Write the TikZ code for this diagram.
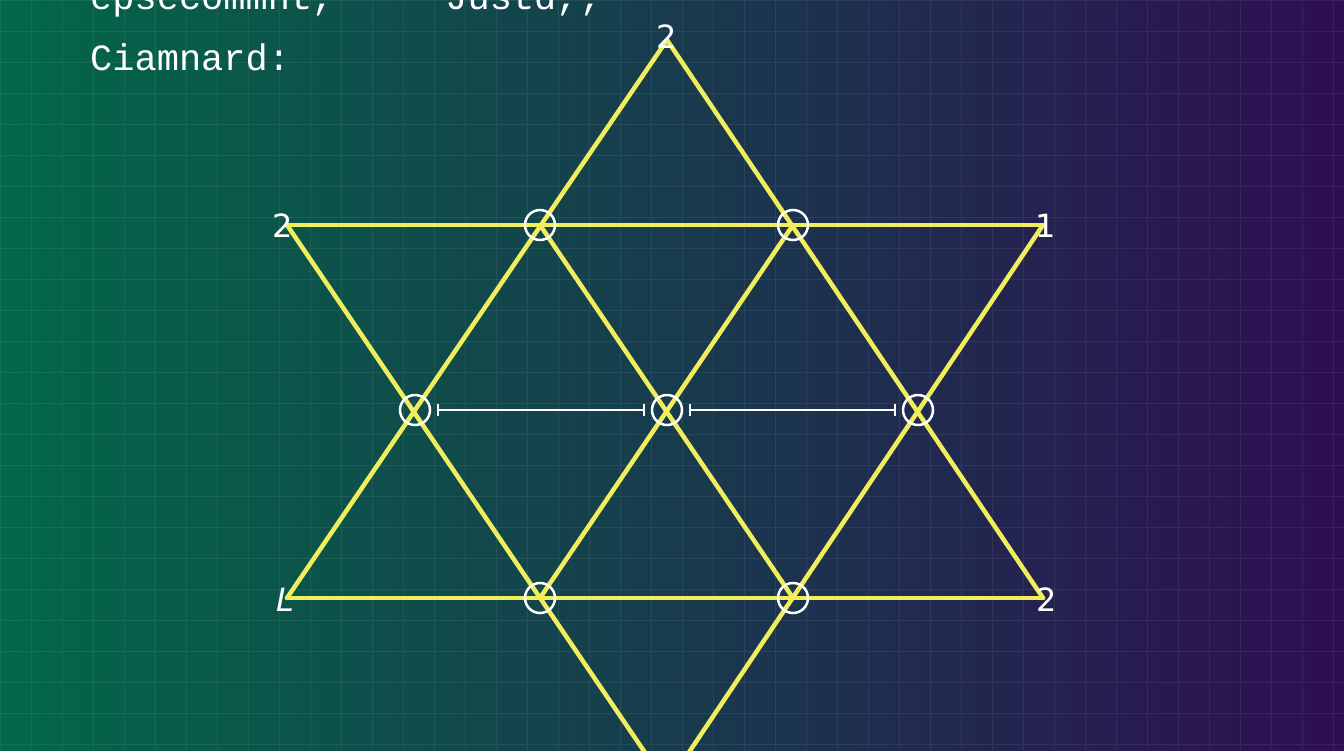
\documentclass[tikz,border=0pt]{standalone}
\usepackage{fontspec}
\setmonofont{Liberation Mono}
\setsansfont{DejaVu Sans}
\usetikzlibrary{arrows.meta}
\definecolor{bgL}{RGB}{2,104,72}
\definecolor{bgM}{RGB}{24,58,76}
\definecolor{bgR}{RGB}{46,14,82}
\definecolor{star}{RGB}{240,238,92}
\tikzset{
  starline/.style={draw=star, line width=4.5pt, line cap=round},
  joint/.style={circle, draw=white, line width=2.5pt, minimum size=30pt, inner sep=0pt},
  vlabel/.style={text=white, font=\sffamily\fontsize{32}{32}\selectfont, inner sep=0pt},
  wire/.style={draw=white, line width=2.5pt, {Bar[width=12pt,line width=2pt]}-{Bar[width=12pt,line width=2pt]}},
  caption/.style={text=white, font=\ttfamily\fontsize{37}{37}\selectfont, anchor=base west, inner sep=0pt}
}
\begin{document}
\begin{tikzpicture}[x=1pt,y=-1pt]
\useasboundingbox (0,0) rectangle (1344,750);
\clip (0,0) rectangle (1344,750);
\shade[left color=bgL, middle color=bgM, right color=bgR] (0,0) rectangle (1344,750);
\draw[white, opacity=0.07, line width=0.8pt, step=31pt] (0,0) grid (1344,750);

% text
\node[caption] (t1) at (90,9) {epsecommnt, ' ' Justd,;};
\node[caption] (t2) at (90,70) {Ciamnard:};

% vertices
\coordinate (A) at (667,40);
\coordinate (BL) at (287,598);
\coordinate (BR) at (1043,598);
\coordinate (TL) at (287,225);
\coordinate (TR) at (1043,225);
\coordinate (D) at (667,785);
\coordinate (P1) at (540,225);
\coordinate (P2) at (793,225);
\coordinate (Q1) at (540,598);
\coordinate (Q2) at (793,598);

% star lines
\draw[starline] (A) -- (BL);
\draw[starline] (A) -- (BR);
\draw[starline] (TL) -- (D);
\draw[starline] (TR) -- (D);
\draw[starline] (TL) -- (TR);
\draw[starline] (BL) -- (BR);
\draw[starline] (P1) -- (Q2);
\draw[starline] (P2) -- (Q1);

% joints
\node[joint] (c1) at (P1) {};
\node[joint] (c2) at (P2) {};
\node[joint] (cL) at (415,410) {};
\node[joint] (cC) at (667,410) {};
\node[joint] (cR) at (918,410) {};
\node[joint] (c3) at (Q1) {};
\node[joint] (c4) at (Q2) {};

% white wire
\draw[wire] ([xshift=6pt]cL.east) -- ([xshift=-6pt]cC.west);
\draw[wire] ([xshift=6pt]cC.east) -- ([xshift=-6pt]cR.west);

% labels
\node[vlabel] (l1) at (667,37) {2};
\node[vlabel] (l2) at (283,226) {2};
\node[vlabel] (l3) at (1046,226) {1};
\node[vlabel, font=\sffamily\itshape\fontsize{32}{32}\selectfont] (l4) at (285,600) {L};
\node[vlabel] (l5) at (1047,600) {2};
\end{tikzpicture}
\end{document}
